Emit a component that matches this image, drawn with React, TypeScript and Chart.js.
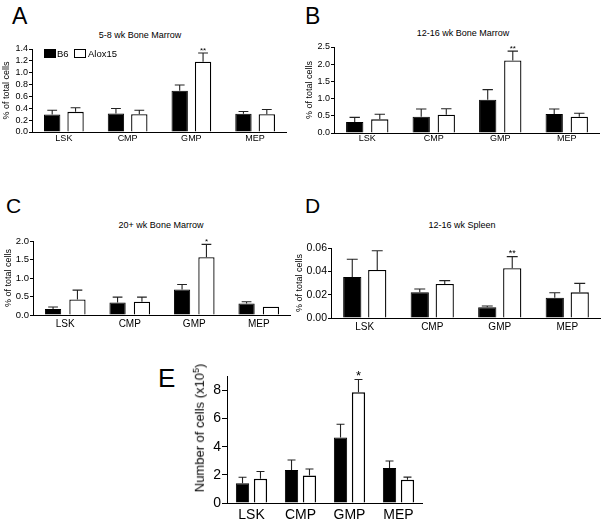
import React, { useEffect, useRef } from "react";
import { Chart, registerables } from "chart.js";
Chart.register(...registerables);

const FONT = "'Liberation Sans', Arial, Helvetica, sans-serif";

const categories = ["LSK", "CMP", "GMP", "MEP"];
const seriesNames = ["B6", "Alox15"];

// A: 5-8 wk Bone Marrow (% of total cells)
const aB6 = [0.295, 0.312, 0.697, 0.306];
const aB6Err = [0.073, 0.085, 0.097, 0.04];
const aAlox = [0.34, 0.3, 1.185, 0.3];
const aAloxErr = [0.068, 0.068, 0.147, 0.08];
const aStars = ["", "", "**", ""];

// B: 12-16 wk Bone Marrow
const bB6 = [0.32, 0.475, 0.969, 0.552];
const bB6Err = [0.135, 0.223, 0.291, 0.146];
const bAlox = [0.397, 0.533, 2.11, 0.475];
const bAloxErr = [0.146, 0.174, 0.27, 0.097];
const bStars = ["", "", "**", ""];

// C: 20+ wk Bone Marrow
const cB6 = [0.161, 0.34, 0.69, 0.314];
const cB6Err = [0.054, 0.144, 0.135, 0.045];
const cAlox = [0.42, 0.359, 1.56, 0.224];
const cAloxErr = [0.253, 0.125, 0.35, 0];
const cStars = ["", "", "*", ""];

// D: 12-16 wk Spleen
const dB6 = [0.0351, 0.022, 0.0092, 0.0174];
const dB6Err = [0.0152, 0.0029, 0.0011, 0.0043];
const dAlox = [0.0411, 0.0291, 0.0426, 0.022];
const dAloxErr = [0.0166, 0.0029, 0.01, 0.0077];
const dStars = ["", "", "**", ""];

// E: Number of cells (x10^5)
const eB6 = [1.41, 2.35, 4.66, 2.49];
const eB6Err = [0.425, 0.71, 0.94, 0.5];
const eAlox = [1.72, 1.95, 7.88, 1.65];
const eAloxErr = [0.52, 0.47, 0.9, 0.19];
const eStars = ["", "", "*", ""];

const titles = {
  A: "5-8 wk Bone Marrow",
  B: "12-16 wk Bone Marrow",
  C: "20+ wk Bone Marrow",
  D: "12-16 wk Spleen",
};
const yTitle = "% of total cells";

const errorBarPlugin = {
  id: "errorBars",
  afterDatasetsDraw(chart: any) {
    const ctx = chart.ctx;
    const y = chart.scales.y;
    const spec = chart.options.plugins.errorBars;
    chart.data.datasets.forEach((ds: any, i: number) => {
      const meta = chart.getDatasetMeta(i);
      meta.data.forEach((el: any, j: number) => {
        const e = ds.errors[j];
        const v = ds.data[j];
        const top = y.getPixelForValue(v + e);
        const cap = el.width * 0.6;
        ctx.save();
        ctx.strokeStyle = "#222";
        ctx.lineWidth = 1.1;
        if (e > 0) {
          ctx.beginPath();
          ctx.moveTo(el.x, el.y);
          ctx.lineTo(el.x, top);
          ctx.moveTo(el.x - cap / 2, top);
          ctx.lineTo(el.x + cap / 2, top);
          ctx.stroke();
        }
        const star = ds.stars[j];
        if (star) {
          ctx.fillStyle = "#000";
          ctx.font = `${spec.starSize}px ${FONT}`;
          ctx.textAlign = "center";
          ctx.textBaseline = "alphabetic";
          ctx.fillText(star, el.x, top + spec.starDy);
        }
        ctx.restore();
      });
    });
  },
};

type Spec = {
  left: number; top: number; width: number; height: number;
  b6: number[]; b6Err: number[]; alox: number[]; aloxErr: number[]; stars: string[];
  yMax: number; yStep: number; decimals: number; evenOnly?: boolean;
  showYTitle: boolean; yTitleSize: number; yTitlePad: number;
  yWidth: number; xHeight: number; padTop: number;
  tickSize: number; catSize: number; catPad: number; tickLen: number; tickPad: number;
  catPct: number; barPct: number; starSize: number; starDy: number; aloxBorder: number;
};

const specs: Spec[] = [
  {
    left: 0, top: 41, width: 287, height: 107,
    b6: aB6, b6Err: aB6Err, alox: aAlox, aloxErr: aAloxErr, stars: aStars,
    yMax: 1.4, yStep: 0.2, decimals: 1,
    showYTitle: true, yTitleSize: 9, yTitlePad: 1.6,
    yWidth: 32, xHeight: 16, padTop: 8,
    tickSize: 9, catSize: 9, catPad: 1, tickLen: 3, tickPad: 1,
    catPct: 0.733, barPct: 0.7, starSize: 8, starDy: -0.5, aloxBorder: 1.3,
  },
  {
    left: 302, top: 39, width: 298, height: 110,
    b6: bB6, b6Err: bB6Err, alox: bAlox, aloxErr: bAloxErr, stars: bStars,
    yMax: 2.5, yStep: 0.5, decimals: 1,
    showYTitle: true, yTitleSize: 9, yTitlePad: 2.6,
    yWidth: 32, xHeight: 16, padTop: 8,
    tickSize: 9, catSize: 9, catPad: 0, tickLen: 3, tickPad: 1,
    catPct: 0.754, barPct: 0.69, starSize: 8, starDy: -0.5, aloxBorder: 1.3,
  },
  {
    left: 0, top: 233, width: 291, height: 98,
    b6: cB6, b6Err: cB6Err, alox: cAlox, aloxErr: cAloxErr, stars: cStars,
    yMax: 2.0, yStep: 0.5, decimals: 1,
    showYTitle: true, yTitleSize: 9, yTitlePad: 3.6,
    yWidth: 33, xHeight: 16, padTop: 8,
    tickSize: 9.5, catSize: 10, catPad: 3, tickLen: 3, tickPad: 1,
    catPct: 0.756, barPct: 0.667, starSize: 8, starDy: -0.5, aloxBorder: 1.3,
  },
  {
    left: 293, top: 240, width: 308, height: 96,
    b6: dB6, b6Err: dB6Err, alox: dAlox, aloxErr: dAloxErr, stars: dStars,
    yMax: 0.06, yStep: 0.02, decimals: 2,
    showYTitle: true, yTitleSize: 9, yTitlePad: 1.6,
    yWidth: 38, xHeight: 18, padTop: 8,
    tickSize: 10.5, catSize: 10, catPad: 3, tickLen: 3, tickPad: 1,
    catPct: 0.74, barPct: 0.73, starSize: 9, starDy: -0.5, aloxBorder: 1.3,
  },
  {
    left: 188, top: 367, width: 235, height: 158,
    b6: eB6, b6Err: eB6Err, alox: eAlox, aloxErr: eAloxErr, stars: eStars,
    yMax: 9, yStep: 2, decimals: 0, evenOnly: true,
    showYTitle: false, yTitleSize: 13, yTitlePad: 0,
    yWidth: 39, xHeight: 22, padTop: 8,
    tickSize: 14, catSize: 14, catPad: 4, tickLen: 5, tickPad: 1,
    catPct: 0.733, barPct: 0.74, starSize: 13, starDy: 1, aloxBorder: 1.5,
  },
];

function Panel({ spec }: { spec: Spec }) {
  const ref = useRef<HTMLCanvasElement | null>(null);
  useEffect(() => {
    if (!ref.current) return;
    const s = spec;
    const chart = new Chart(ref.current, {
      type: "bar",
      data: {
        labels: categories,
        datasets: [
          {
            label: seriesNames[0],
            data: s.b6,
            errors: s.b6Err,
            stars: ["", "", "", ""],
            backgroundColor: "#000",
            borderColor: "#000",
            borderWidth: 1,
            categoryPercentage: s.catPct,
            barPercentage: s.barPct,
          } as any,
          {
            label: seriesNames[1],
            data: s.alox,
            errors: s.aloxErr,
            stars: s.stars,
            backgroundColor: "#fff",
            borderColor: "#000",
            borderWidth: s.aloxBorder,
            categoryPercentage: s.catPct,
            barPercentage: s.barPct,
          } as any,
        ],
      },
      options: {
        animation: false,
        responsive: false,
        maintainAspectRatio: false,
        layout: { padding: { top: s.padTop, left: 0, right: 0, bottom: 0 } },
        plugins: {
          legend: { display: false },
          tooltip: { enabled: false },
          title: { display: false },
          errorBars: { starSize: s.starSize, starDy: s.starDy },
        } as any,
        scales: {
          x: {
            afterFit: (sc: any) => { sc.height = s.xHeight; },
            grid: { display: true, drawOnChartArea: false, drawTicks: false },
            border: { display: true, color: "#000", width: 1 },
            ticks: {
              color: "#000",
              padding: s.catPad,
              font: { family: FONT, size: s.catSize, lineHeight: 1.2 },
              maxRotation: 0,
            },
          },
          y: {
            min: 0,
            max: s.yMax,
            afterFit: (sc: any) => { sc.width = s.yWidth; },
            afterBuildTicks: (sc: any) => {
              if (s.evenOnly) sc.ticks = sc.ticks.filter((t: any) => Math.abs(t.value % s.yStep) < 1e-6);
            },
            grid: {
              display: true,
              drawOnChartArea: false,
              drawTicks: true,
              tickLength: s.tickLen,
              color: "#000",
              lineWidth: 1,
            },
            border: { display: true, color: "#000", width: 1 },
            ticks: {
              stepSize: s.yStep,
              autoSkip: false,
              color: "#000",
              padding: s.tickPad,
              font: { family: FONT, size: s.tickSize, lineHeight: 1.2 },
              callback: (v: any) => Number(v).toFixed(s.decimals),
            },
            title: {
              display: s.showYTitle,
              text: yTitle,
              color: "#000",
              font: { family: FONT, size: s.yTitleSize, lineHeight: 1.2 },
              padding: { top: s.yTitlePad, bottom: 0 },
            },
          },
        },
      },
      plugins: [errorBarPlugin],
    } as any);
    return () => chart.destroy();
  }, [spec]);
  return (
    <canvas
      ref={ref}
      width={spec.width}
      height={spec.height}
      style={{ position: "absolute", left: spec.left, top: spec.top, width: spec.width, height: spec.height, display: "block" }}
    />
  );
}

const textBase: React.CSSProperties = {
  position: "absolute",
  fontFamily: FONT,
  color: "#000",
  whiteSpace: "nowrap",
  lineHeight: 1,
};

function Title({ x, y, text }: { x: number; y: number; text: string }) {
  return (
    <div style={{ ...textBase, left: x, top: y, fontSize: 9, transform: "translate(-50%,-50%)" }}>{text}</div>
  );
}

function Letter({ x, y, size, text }: { x: number; y: number; size: number; text: string }) {
  return <div style={{ ...textBase, left: x, top: y, fontSize: size }}>{text}</div>;
}

export default function App() {
  return (
    <div style={{ position: "fixed", left: 0, top: 0, width: 603, height: 527, background: "#fff", overflow: "hidden" }}>
      {specs.map((s, i) => (
        <Panel key={i} spec={s} />
      ))}
      <Letter x={12} y={5} size={23} text="A" />
      <Letter x={305} y={5} size={23} text="B" />
      <Letter x={6} y={195} size={21} text="C" />
      <Letter x={305} y={195} size={21} text="D" />
      <Letter x={158} y={365} size={26} text="E" />
      <Title x={140} y={35} text={titles.A} />
      <Title x={463} y={33} text={titles.B} />
      <Title x={161} y={225} text={titles.C} />
      <Title x={462} y={225} text={titles.D} />
      {/* legend */}
      <div style={{ position: "absolute", left: 44, top: 49, width: 12, height: 9, background: "#000" }} />
      <div style={{ ...textBase, left: 57, top: 53.5, fontSize: 9.5, transform: "translateY(-50%)" }}>{seriesNames[0]}</div>
      <div style={{ position: "absolute", left: 74, top: 49, width: 12, height: 9, background: "#fff", border: "1px solid #000", boxSizing: "border-box" }} />
      <div style={{ ...textBase, left: 88, top: 53.5, fontSize: 9.5, transform: "translateY(-50%)" }}>{seriesNames[1]}</div>
      {/* E y-axis title */}
      <div style={{ ...textBase, left: 199, top: 428, fontSize: 13, transform: "translate(-50%,-50%) rotate(-90deg)" }}>
        Number of cells (x10<sup style={{ fontSize: 9 }}>5</sup>)
      </div>
    </div>
  );
}
